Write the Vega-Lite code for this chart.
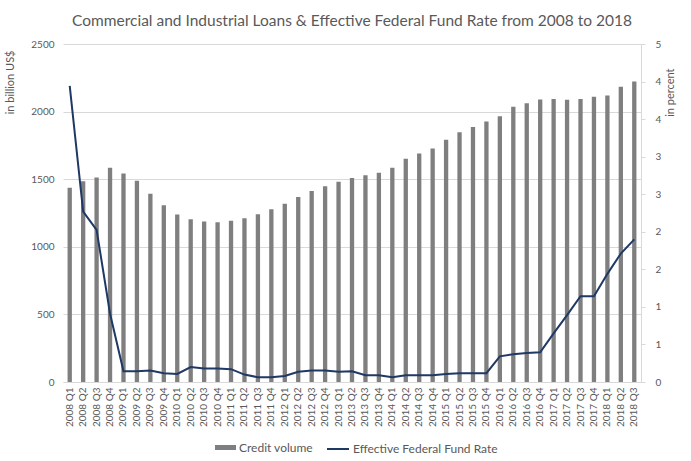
{
  "$schema": "https://vega.github.io/schema/vega-lite/v6.json",
  "width": 578,
  "height": 338,
  "autosize": {"type": "none"},
  "padding": {"left": 63, "top": 44, "right": 50, "bottom": 79},
  "title": {
    "text": "Commercial and Industrial Loans & Effective Federal Fund Rate from 2008 to 2018",
    "anchor": "middle",
    "frame": "group",
    "offset": 10,
    "font": "Lato",
    "fontSize": 15.5,
    "fontWeight": "normal",
    "color": "#595959"
  },
  "data": {
    "values": [
      {"quarter": "2008 Q1", "credit": 1437, "rate": 4.38},
      {"quarter": "2008 Q2", "credit": 1484, "rate": 2.52},
      {"quarter": "2008 Q3", "credit": 1513, "rate": 2.25},
      {"quarter": "2008 Q4", "credit": 1585, "rate": 1.01},
      {"quarter": "2009 Q1", "credit": 1543, "rate": 0.16},
      {"quarter": "2009 Q2", "credit": 1489, "rate": 0.16},
      {"quarter": "2009 Q3", "credit": 1393, "rate": 0.17},
      {"quarter": "2009 Q4", "credit": 1307, "rate": 0.13},
      {"quarter": "2010 Q1", "credit": 1238, "rate": 0.12},
      {"quarter": "2010 Q2", "credit": 1203, "rate": 0.22},
      {"quarter": "2010 Q3", "credit": 1188, "rate": 0.20},
      {"quarter": "2010 Q4", "credit": 1181, "rate": 0.20},
      {"quarter": "2011 Q1", "credit": 1193, "rate": 0.19},
      {"quarter": "2011 Q2", "credit": 1211, "rate": 0.11},
      {"quarter": "2011 Q3", "credit": 1240, "rate": 0.07},
      {"quarter": "2011 Q4", "credit": 1277, "rate": 0.07},
      {"quarter": "2012 Q1", "credit": 1319, "rate": 0.09},
      {"quarter": "2012 Q2", "credit": 1368, "rate": 0.15},
      {"quarter": "2012 Q3", "credit": 1412, "rate": 0.17},
      {"quarter": "2012 Q4", "credit": 1447, "rate": 0.17},
      {"quarter": "2013 Q1", "credit": 1481, "rate": 0.15},
      {"quarter": "2013 Q2", "credit": 1508, "rate": 0.16},
      {"quarter": "2013 Q3", "credit": 1530, "rate": 0.10},
      {"quarter": "2013 Q4", "credit": 1548, "rate": 0.10},
      {"quarter": "2014 Q1", "credit": 1585, "rate": 0.07},
      {"quarter": "2014 Q2", "credit": 1651, "rate": 0.10},
      {"quarter": "2014 Q3", "credit": 1690, "rate": 0.10},
      {"quarter": "2014 Q4", "credit": 1727, "rate": 0.10},
      {"quarter": "2015 Q1", "credit": 1791, "rate": 0.12},
      {"quarter": "2015 Q2", "credit": 1848, "rate": 0.13},
      {"quarter": "2015 Q3", "credit": 1887, "rate": 0.13},
      {"quarter": "2015 Q4", "credit": 1927, "rate": 0.13},
      {"quarter": "2016 Q1", "credit": 1966, "rate": 0.38},
      {"quarter": "2016 Q2", "credit": 2035, "rate": 0.41},
      {"quarter": "2016 Q3", "credit": 2062, "rate": 0.43},
      {"quarter": "2016 Q4", "credit": 2089, "rate": 0.44},
      {"quarter": "2017 Q1", "credit": 2094, "rate": 0.72},
      {"quarter": "2017 Q2", "credit": 2087, "rate": 0.99},
      {"quarter": "2017 Q3", "credit": 2094, "rate": 1.27},
      {"quarter": "2017 Q4", "credit": 2109, "rate": 1.27},
      {"quarter": "2018 Q1", "credit": 2119, "rate": 1.60},
      {"quarter": "2018 Q2", "credit": 2183, "rate": 1.90},
      {"quarter": "2018 Q3", "credit": 2222, "rate": 2.11}
    ]
  },
  "encoding": {
    "x": {
      "field": "quarter",
      "type": "ordinal",
      "sort": null,
      "scale": {"paddingInner": 0.68, "paddingOuter": 0.34},
      "axis": {
        "title": null,
        "labelAngle": -90,
        "labelPadding": 5,
        "ticks": false,
        "domainColor": "#d9d9d9",
        "labelColor": "#595959",
        "labelFontSize": 10,
        "labelFont": "Lato"
      }
    }
  },
  "layer": [
    {
      "mark": {"type": "bar"},
      "encoding": {
        "y": {
          "field": "credit",
          "type": "quantitative",
          "scale": {"domain": [0, 2500]},
          "axis": {
            "title": "in billion US$",
            "values": [0, 500, 1000, 1500, 2000, 2500],
            "format": "d",
            "grid": true,
            "gridColor": "#d9d9d9",
            "domain": false,
            "ticks": false,
            "labelPadding": 9,
            "labelColor": "#595959",
            "labelFontSize": 10,
            "labelFont": "Lato",
            "titleColor": "#595959",
            "titleFont": "Lato",
            "titleFontSize": 11,
            "titleFontWeight": "normal",
            "titleAngle": -90,
            "titleAlign": "right",
            "titleBaseline": "middle",
            "titleX": -53,
            "titleY": 6
          }
        },
        "color": {
          "datum": "Credit volume",
          "scale": {"range": ["#7f7f7f"]},
          "legend": {
            "title": null,
            "orient": "none",
            "legendX": 152,
            "legendY": 393,
            "symbolType": "M-1,-0.24H1V0.24H-1Z",
            "symbolSize": 441,
            "symbolStrokeWidth": 0,
            "labelFont": "Lato",
            "labelFontSize": 12,
            "labelColor": "#595959",
            "labelOffset": 3
          }
        }
      }
    },
    {
      "mark": {"type": "line", "strokeWidth": 2},
      "encoding": {
        "y": {
          "field": "rate",
          "type": "quantitative",
          "scale": {"domain": [0, 5]},
          "axis": {
            "orient": "right",
            "title": "in percent",
            "values": [0, 0.5555556, 1.1111111, 1.6666667, 2.2222222, 2.7777778, 3.3333333, 3.8888889, 4.4444444, 5],
            "format": ".0f",
            "grid": false,
            "domain": true,
            "domainColor": "#d9d9d9",
            "ticks": true,
            "tickColor": "#d9d9d9",
            "tickSize": 4,
            "labelPadding": 10,
            "labelColor": "#595959",
            "labelFontSize": 10,
            "labelFont": "Lato",
            "titleColor": "#595959",
            "titleFont": "Lato",
            "titleFontSize": 11,
            "titleFontWeight": "normal",
            "titleAngle": -90,
            "titleAlign": "right",
            "titleBaseline": "middle",
            "titleX": 29,
            "titleY": 24
          }
        },
        "stroke": {
          "datum": "Effective Federal Fund Rate",
          "scale": {"range": ["#1f3864"]},
          "legend": {
            "title": null,
            "orient": "none",
            "legendX": 263,
            "legendY": 393,
            "symbolType": "stroke",
            "symbolSize": 484,
            "symbolStrokeWidth": 2,
            "labelFont": "Lato",
            "labelFontSize": 12,
            "labelColor": "#595959",
            "labelOffset": 3
          }
        }
      }
    }
  ],
  "resolve": {"scale": {"y": "independent"}},
  "config": {
    "view": {"stroke": null},
    "background": "white"
  }
}
